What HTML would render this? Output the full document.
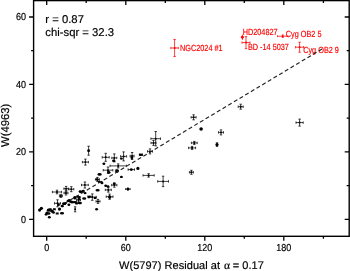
<!DOCTYPE html>
<html><head><meta charset="utf-8"><style>
html,body{margin:0;padding:0;background:#fff;width:350px;height:271px;overflow:hidden}
svg{display:block;will-change:transform;text-rendering:geometricPrecision;font-family:"Liberation Sans",sans-serif}
</style></head><body>
<svg width="350" height="271" viewBox="0 0 350 271">
<rect x="33.6" y="0.6" width="315.6" height="235.7" fill="none" stroke="#000" stroke-width="1.4"/>
<path d="M46.7 236.3V240.8M46.7 0.6V5.1M86.2 236.3V238.8M86.2 0.6V3.1M125.8 236.3V240.8M125.8 0.6V5.1M165.3 236.3V238.8M165.3 0.6V3.1M204.8 236.3V240.8M204.8 0.6V5.1M244.3 236.3V238.8M244.3 0.6V3.1M283.8 236.3V240.8M283.8 0.6V5.1M323.4 236.3V238.8M323.4 0.6V3.1M33.6 219.3H29.1M349.2 219.3H344.7M33.6 185.6H31.1M349.2 185.6H346.7M33.6 151.9H29.1M349.2 151.9H344.7M33.6 118.1H31.1M349.2 118.1H346.7M33.6 84.4H29.1M349.2 84.4H344.7M33.6 50.7H31.1M349.2 50.7H346.7M33.6 17.0H29.1M349.2 17.0H344.7" stroke="#000" stroke-width="1.3" fill="none"/>
<g font-size="9.0" stroke="#000" stroke-width="0.18"><text transform="translate(46.7 251) scale(1 1.12)" text-anchor="middle">0</text><text transform="translate(125.8 251) scale(1 1.12)" text-anchor="middle">60</text><text transform="translate(204.8 251) scale(1 1.12)" text-anchor="middle">120</text><text transform="translate(283.8 251) scale(1 1.12)" text-anchor="middle">180</text><text transform="translate(26 222.5) scale(1 1.12)" text-anchor="end">0</text><text transform="translate(26 155.1) scale(1 1.12)" text-anchor="end">20</text><text transform="translate(26 87.6) scale(1 1.12)" text-anchor="end">40</text><text transform="translate(26 20.2) scale(1 1.12)" text-anchor="end">60</text></g>
<g font-size="11.0" stroke="#000" stroke-width="0.18">
<text x="119" y="269" letter-spacing="0.045">W(5797) Residual at <tspan font-family="Liberation Serif" font-size="11.6" dx="0.7">&#945;</tspan><tspan dx="-0.5"> = 0.17</tspan></text>
<text transform="translate(8.5 147.0) rotate(-90)" font-size="11.3">W(4963)</text>
<text x="45.3" y="23" font-size="11.3">r = 0.87</text>
<text x="45.3" y="36.3" font-size="11.3">chi-sqr = 32.3</text>
</g>
<path d="M49.0 209.8H51.4M49.0 208.6V211.0M51.4 208.6V211.0M50.2 208.6V211.0M49.0 208.6H51.4M49.0 211.0H51.4M53.5 209.3H55.3M53.5 208.1V210.5M55.3 208.1V210.5M56.2 213.5H58.2M56.2 212.3V214.7M58.2 212.3V214.7M54.5 203.3H60.5M54.5 202.1V204.5M60.5 202.1V204.5M57.5 199.8V206.8M56.3 199.8H58.7M56.3 206.8H58.7M59.4 195.9H62.4M59.4 194.7V197.1M62.4 194.7V197.1M60.9 194.4V197.4M59.7 194.4H62.1M59.7 197.4H62.1M64.0 193.0H68.0M64.0 191.8V194.2M68.0 191.8V194.2M66.0 191.0V195.0M64.8 191.0H67.2M64.8 195.0H67.2M75.1 206.8V211.8M73.9 206.8H76.3M73.9 211.8H76.3M76.5 199.9H80.5M76.5 198.7V201.1M80.5 198.7V201.1M78.5 197.9V201.9M77.3 197.9H79.7M77.3 201.9H79.7M52.4 192.0H61.6M52.4 190.8V193.2M61.6 190.8V193.2M57.0 190.2V193.8M55.8 190.2H58.2M55.8 193.8H58.2M63.9 188.7H68.3M63.9 187.5V189.9M68.3 187.5V189.9M66.1 186.4V191.0M64.9 186.4H67.3M64.9 191.0H67.3M68.8 189.2H73.8M68.8 188.0V190.4M73.8 188.0V190.4M71.3 186.7V191.7M70.1 186.7H72.5M70.1 191.7H72.5M81.5 185.0H88.3M81.5 183.8V186.2M88.3 183.8V186.2M84.9 182.0V188.0M83.7 182.0H86.1M83.7 188.0H86.1M88.3 197.1H96.3M88.3 195.9V198.3M96.3 195.9V198.3M92.3 193.9V200.3M91.1 193.9H93.5M91.1 200.3H93.5M96.0 201.4H100.0M96.0 200.2V202.6M100.0 200.2V202.6M98.0 199.4V203.4M96.8 199.4H99.2M96.8 203.4H99.2M82.4 162.1H88.4M82.4 160.9V163.3M88.4 160.9V163.3M85.4 159.1V165.1M84.2 159.1H86.6M84.2 165.1H86.6M88.6 146.2V155.2M87.4 146.2H89.8M87.4 155.2H89.8M95.4 179.4H99.4M95.4 178.2V180.6M99.4 178.2V180.6M97.4 177.4V181.4M96.2 177.4H98.6M96.2 181.4H98.6M105.3 189.9H111.3M105.3 188.7V191.1M111.3 188.7V191.1M108.3 187.7V192.1M107.1 187.7H109.5M107.1 192.1H109.5M106.2 196.7H113.0M106.2 195.5V197.9M113.0 195.5V197.9M109.6 194.1V199.3M108.4 194.1H110.8M108.4 199.3H110.8M111.7 185.1H116.9M111.7 183.9V186.3M116.9 183.9V186.3M114.3 183.0V187.2M113.1 183.0H115.5M113.1 187.2H115.5M125.6 189.1H130.2M125.6 188.2V190.0M130.2 188.2V190.0M127.9 188.1V190.1M127.0 188.1H128.8M127.0 190.1H128.8M103.2 170.2H112.8M103.2 169.0V171.4M112.8 169.0V171.4M108.0 167.0V173.4M106.8 167.0H109.2M106.8 173.4H109.2M102.2 157.3H109.2M102.2 156.1V158.5M109.2 156.1V158.5M105.7 153.3V161.3M104.5 153.3H106.9M104.5 161.3H106.9M111.8 157.9H116.8M111.8 156.7V159.1M116.8 156.7V159.1M114.3 153.9V161.9M113.1 153.9H115.5M113.1 161.9H115.5M120.6 156.4H126.6M120.6 155.2V157.6M126.6 155.2V157.6M123.6 151.9V160.9M122.4 151.9H124.8M122.4 160.9H124.8M130.1 156.0H134.1M130.1 154.8V157.2M134.1 154.8V157.2M132.1 152.5V159.5M130.9 152.5H133.3M130.9 159.5H133.3M139.4 154.7H142.4M139.4 153.5V155.9M142.4 153.5V155.9M110.0 165.9H126.4M110.0 164.7V167.1M126.4 164.7V167.1M118.2 163.9V167.9M117.0 163.9H119.4M117.0 167.9H119.4M143.0 175.4H154.2M143.0 174.2V176.6M154.2 174.2V176.6M148.6 173.7V177.1M147.4 173.7H149.8M147.4 177.1H149.8M157.7 181.4H168.5M157.7 180.2V182.6M168.5 180.2V182.6M163.1 176.2V186.6M161.9 176.2H164.3M161.9 186.6H164.3M189.4 172.3H193.4M189.4 171.1V173.5M193.4 171.1V173.5M191.4 170.3V174.3M190.2 170.3H192.6M190.2 174.3H192.6M151.0 142.9H156.0M151.0 141.7V144.1M156.0 141.7V144.1M153.5 140.4V145.4M152.3 140.4H154.7M152.3 145.4H154.7M150.9 138.7H160.5M150.9 137.5V139.9M160.5 137.5V139.9M155.7 131.5V145.9M154.5 131.5H156.9M154.5 145.9H156.9M147.5 151.4H152.5M147.5 150.2V152.6M152.5 150.2V152.6M150.0 148.9V153.9M148.8 148.9H151.2M148.8 153.9H151.2M191.4 142.9H197.2M191.4 141.7V144.1M197.2 141.7V144.1M194.3 141.4V144.4M193.1 141.4H195.5M193.1 144.4H195.5M188.6 147.9H195.6M188.6 146.7V149.1M195.6 146.7V149.1M192.1 146.4V149.4M190.9 146.4H193.3M190.9 149.4H193.3M191.1 117.3H196.1M191.1 116.1V118.5M196.1 116.1V118.5M193.6 114.8V119.8M192.4 114.8H194.8M192.4 119.8H194.8M218.5 132.4H223.5M218.5 131.2V133.6M223.5 131.2V133.6M221.0 129.9V134.9M219.8 129.9H222.2M219.8 134.9H222.2M238.2 106.7H243.2M238.2 105.5V107.9M243.2 105.5V107.9M240.7 104.2V109.2M239.5 104.2H241.9M239.5 109.2H241.9M296.0 122.6H303.2M296.0 121.4V123.8M303.2 121.4V123.8M299.6 119.1V126.1M298.4 119.1H300.8M298.4 126.1H300.8M217.0 142.8V146.4M215.8 142.8H218.2M215.8 146.4H218.2M128.1 169.6H134.5M128.1 168.4V170.8M134.5 168.4V170.8M115.4 170.9H118.4M115.4 169.7V172.1M118.4 169.7V172.1M116.9 169.4V172.4M115.7 169.4H118.1M115.7 172.4H118.1M87.9 196.6H90.9M87.9 195.4V197.8M90.9 195.4V197.8" stroke="#000" stroke-width="0.75" fill="none"/>
<g fill="#000"><circle cx="39.6" cy="210.1" r="1.6"/><circle cx="41.4" cy="208.3" r="1.6"/><circle cx="48.4" cy="210.2" r="1.6"/><circle cx="50.2" cy="209.8" r="1.0"/><circle cx="52.1" cy="211.2" r="1.6"/><ellipse cx="53.5" cy="212.5" rx="1.45" ry="1.2"/><circle cx="47.0" cy="213.0" r="1.6"/><ellipse cx="48.9" cy="213.5" rx="1.45" ry="1.2"/><ellipse cx="46.1" cy="214.4" rx="1.45" ry="1.2"/><circle cx="54.4" cy="209.3" r="1.0"/><ellipse cx="49.3" cy="217.2" rx="1.45" ry="1.2"/><circle cx="57.2" cy="213.5" r="1.0"/><ellipse cx="62.0" cy="213.2" rx="2.1" ry="1.3"/><circle cx="59.5" cy="209.1" r="1.6"/><ellipse cx="58.5" cy="204.7" rx="1.45" ry="1.2"/><ellipse cx="63.6" cy="203.8" rx="1.45" ry="1.2"/><circle cx="57.5" cy="203.3" r="1.0"/><ellipse cx="62.5" cy="206.1" rx="1.45" ry="1.2"/><circle cx="60.9" cy="195.9" r="1.0"/><ellipse cx="63.7" cy="203.6" rx="1.45" ry="1.2"/><ellipse cx="65.5" cy="203.1" rx="1.45" ry="1.2"/><circle cx="66.0" cy="193.0" r="1.0"/><ellipse cx="69.2" cy="200.3" rx="1.45" ry="1.2"/><ellipse cx="70.1" cy="201.4" rx="1.45" ry="1.2"/><ellipse cx="72.0" cy="202.2" rx="1.45" ry="1.2"/><circle cx="75.1" cy="209.3" r="1.0"/><ellipse cx="75.7" cy="202.2" rx="1.45" ry="1.2"/><ellipse cx="77.5" cy="196.6" rx="1.45" ry="1.2"/><circle cx="78.5" cy="199.9" r="1.0"/><ellipse cx="79.4" cy="203.1" rx="1.45" ry="1.2"/><ellipse cx="74.8" cy="197.5" rx="1.45" ry="1.2"/><circle cx="57.0" cy="192.0" r="1.0"/><circle cx="66.1" cy="188.7" r="1.0"/><circle cx="71.3" cy="189.2" r="1.0"/><circle cx="84.9" cy="185.0" r="1.0"/><ellipse cx="83.3" cy="191.0" rx="1.45" ry="1.2"/><ellipse cx="80.8" cy="192.0" rx="1.45" ry="1.2"/><ellipse cx="84.2" cy="198.5" rx="2.1" ry="1.3"/><ellipse cx="89.1" cy="197.1" rx="1.45" ry="1.2"/><circle cx="92.3" cy="197.1" r="1.0"/><ellipse cx="95.1" cy="197.9" rx="1.45" ry="1.2"/><circle cx="98.0" cy="201.4" r="1.0"/><ellipse cx="96.6" cy="209.3" rx="1.45" ry="1.2"/><ellipse cx="79.4" cy="197.1" rx="1.45" ry="1.2"/><ellipse cx="79.4" cy="202.9" rx="1.45" ry="1.2"/><circle cx="85.4" cy="162.1" r="1.0"/><circle cx="88.6" cy="150.7" r="1.45"/><ellipse cx="97.6" cy="190.3" rx="2.1" ry="1.3"/><circle cx="97.4" cy="179.4" r="1.0"/><ellipse cx="99.2" cy="181.7" rx="1.45" ry="1.2"/><ellipse cx="102.0" cy="183.1" rx="1.45" ry="1.2"/><ellipse cx="99.6" cy="174.4" rx="2.1" ry="1.3"/><ellipse cx="105.7" cy="185.7" rx="1.45" ry="1.2"/><circle cx="108.3" cy="189.9" r="1.0"/><circle cx="109.6" cy="196.7" r="1.45"/><ellipse cx="109.8" cy="197.6" rx="1.45" ry="1.2"/><ellipse cx="108.0" cy="186.4" rx="1.45" ry="1.2"/><circle cx="114.3" cy="185.1" r="1.0"/><circle cx="127.9" cy="189.1" r="1.45"/><circle cx="108.0" cy="170.2" r="1.0"/><ellipse cx="108.5" cy="172.0" rx="1.45" ry="1.2"/><ellipse cx="117.2" cy="171.1" rx="1.45" ry="1.2"/><ellipse cx="103.9" cy="163.7" rx="1.45" ry="1.2"/><ellipse cx="114.0" cy="160.9" rx="1.45" ry="1.2"/><circle cx="105.7" cy="157.3" r="1.0"/><circle cx="114.3" cy="157.9" r="1.0"/><ellipse cx="113.6" cy="160.7" rx="1.45" ry="1.2"/><circle cx="123.6" cy="156.4" r="1.0"/><ellipse cx="121.4" cy="158.6" rx="1.45" ry="1.2"/><circle cx="132.1" cy="156.0" r="1.0"/><ellipse cx="131.9" cy="157.8" rx="1.45" ry="1.2"/><ellipse cx="140.9" cy="154.7" rx="2.1" ry="1.3"/><circle cx="118.2" cy="165.9" r="1.0"/><ellipse cx="121.4" cy="176.9" rx="1.45" ry="1.2"/><circle cx="137.9" cy="168.4" r="1.6"/><circle cx="148.6" cy="175.4" r="1.0"/><circle cx="163.1" cy="181.4" r="1.0"/><circle cx="191.4" cy="172.3" r="1.0"/><circle cx="153.5" cy="142.9" r="1.0"/><circle cx="155.7" cy="138.7" r="1.0"/><circle cx="150.0" cy="151.4" r="1.0"/><circle cx="194.3" cy="142.9" r="1.0"/><circle cx="192.1" cy="147.9" r="1.0"/><circle cx="193.6" cy="117.3" r="1.0"/><circle cx="201.1" cy="129.0" r="1.8"/><circle cx="221.0" cy="132.4" r="1.0"/><circle cx="240.7" cy="106.7" r="1.0"/><circle cx="299.6" cy="122.6" r="1.0"/><ellipse cx="101.4" cy="182.1" rx="1.45" ry="1.2"/><ellipse cx="80.1" cy="191.4" rx="1.45" ry="1.2"/><circle cx="217.0" cy="144.6" r="1.6"/><circle cx="131.3" cy="169.6" r="1.45"/><circle cx="116.9" cy="170.9" r="1.0"/><ellipse cx="114.3" cy="183.7" rx="1.45" ry="1.2"/><ellipse cx="82.6" cy="191.4" rx="1.45" ry="1.2"/><ellipse cx="85.1" cy="193.1" rx="1.45" ry="1.2"/><circle cx="74.9" cy="197.9" r="1.6"/><ellipse cx="79.1" cy="199.1" rx="1.45" ry="1.2"/><ellipse cx="68.0" cy="200.9" rx="1.45" ry="1.2"/><ellipse cx="71.4" cy="201.7" rx="1.45" ry="1.2"/><ellipse cx="74.0" cy="202.1" rx="1.45" ry="1.2"/><ellipse cx="76.6" cy="203.4" rx="1.45" ry="1.2"/><ellipse cx="80.4" cy="203.0" rx="1.45" ry="1.2"/><ellipse cx="64.6" cy="203.9" rx="1.45" ry="1.2"/><ellipse cx="68.9" cy="204.7" rx="1.45" ry="1.2"/><ellipse cx="62.0" cy="206.0" rx="1.45" ry="1.2"/><circle cx="89.4" cy="196.6" r="1.0"/><ellipse cx="97.1" cy="179.4" rx="1.45" ry="1.2"/><ellipse cx="109.1" cy="172.6" rx="1.45" ry="1.2"/></g>
<path d="M242.4 35.1V39.3M241.9 35.1H242.9M241.9 39.3H242.9M242.0 42.6H250.0M242.0 41.4V43.8M250.0 41.4V43.8M246.0 36.6V48.6M244.8 36.6H247.2M244.8 48.6H247.2M277.5 36.2H287.9M277.5 35.3V37.1M287.9 35.3V37.1M282.7 34.9V37.5M281.8 34.9H283.6M281.8 37.5H283.6M295.6 47.2H303.6M295.6 46.0V48.4M303.6 46.0V48.4M299.6 42.2V52.2M298.4 42.2H300.8M298.4 52.2H300.8M170.9 48.0H178.3M170.9 46.8V49.2M178.3 46.8V49.2M174.6 39.5V56.5M173.4 39.5H175.8M173.4 56.5H175.8" stroke="#f00" stroke-width="0.75" fill="none"/>
<g fill="#f00"><circle cx="242.4" cy="37.2" r="1.45"/><circle cx="246.0" cy="42.6" r="1.0"/><circle cx="282.7" cy="36.2" r="1.0"/><circle cx="299.6" cy="47.2" r="1.0"/><circle cx="174.6" cy="48.0" r="1.0"/></g>
<g fill="#f00" font-size="7.3" stroke="#f00" stroke-width="0.14"><text transform="translate(242.7 34.8) scale(1 1.22)">HD204827</text><text transform="translate(285.8 36.5) scale(1 1.22)">Cyg OB2 5</text><text transform="translate(247.9 50) scale(1 1.22)">BD -14 5037</text><text transform="translate(303.2 52.7) scale(1 1.22)">Cyg OB2 9</text><text transform="translate(180 50.6) scale(1 1.22)">NGC2024 #1</text></g>
<path d="M66 202.6L322 49" stroke="#222" stroke-width="1.15" stroke-dasharray="4 2.6" stroke-dashoffset="2.2" fill="none"/>
</svg>
</body></html>
